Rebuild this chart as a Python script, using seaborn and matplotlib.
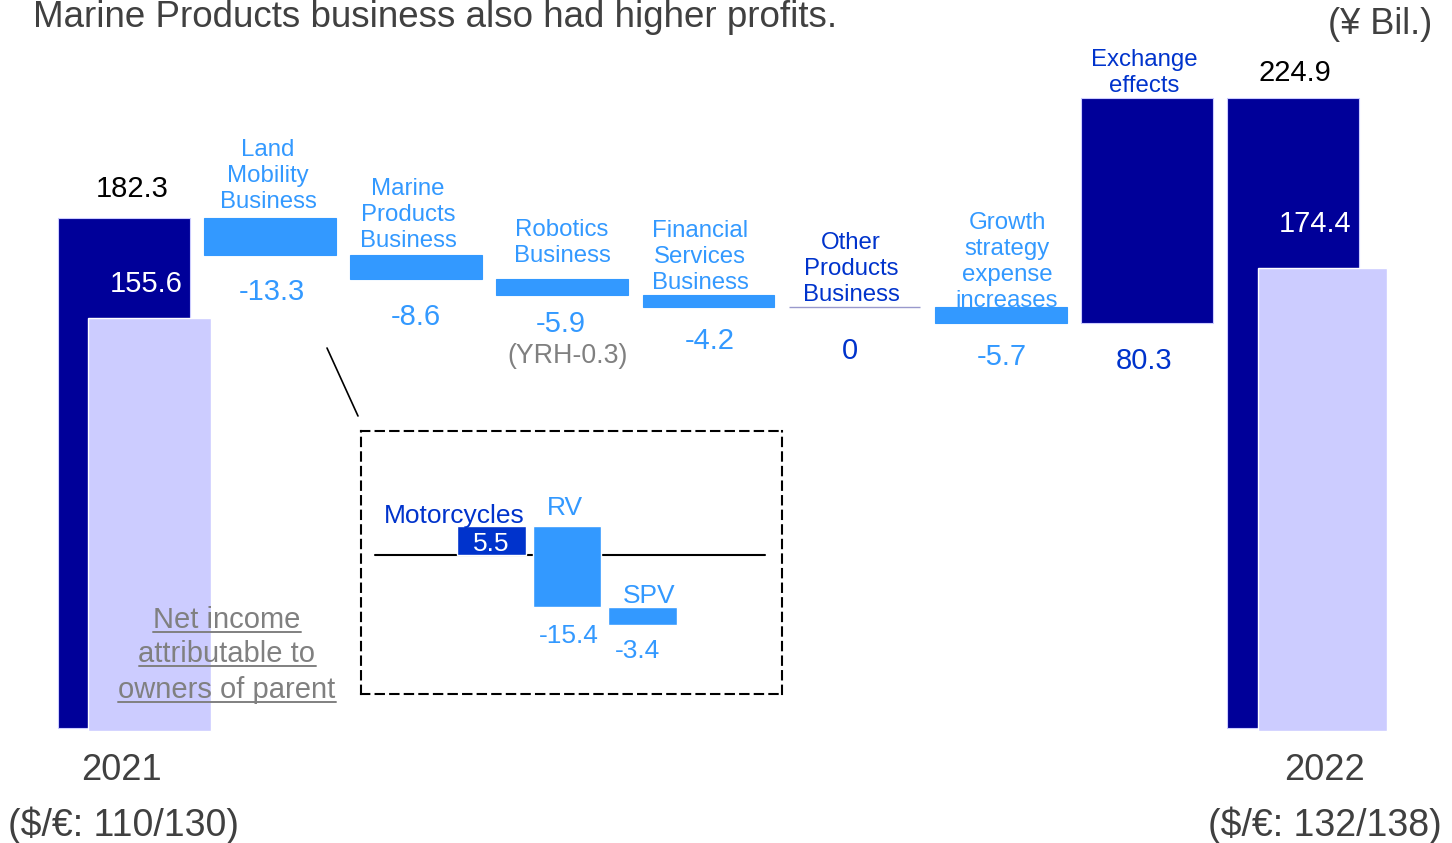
import numpy as np
import matplotlib.pyplot as plt
import seaborn as sns
from matplotlib.lines import Line2D

sns.set_theme(style="white")
plt.rcParams['font.family'] = ['Liberation Sans', 'DejaVu Sans']

W, H = 1452, 843

# ---- data ----
years = ["2021", "2022"]
fx_rates = ["($/€: 110/130)", "($/€: 132/138)"]
op_income = [182.3, 224.9]
net_income = [155.6, 174.4]
steps = ["Land\nMobility\nBusiness", "Marine\nProducts\nBusiness", "Robotics\nBusiness",
         "Financial\nServices\nBusiness", "Other\nProducts\nBusiness",
         "Growth\nstrategy\nexpense\nincreases", "Exchange\neffects"]
step_values = [-13.3, -8.6, -5.9, -4.2, 0.0, -5.7, 80.3]
land_parts = ["Motorcycles", "RV", "SPV"]
land_values = [5.5, -15.4, -3.4]

# colours
NAVY = "#000099"
LIGHT = "#CCCCFF"
BLUE = "#3399FF"
DARKBLUE = "#0033CC"
GREY = "#404040"
MIDGREY = "#808080"


def px(x, y):
    # pixel position (from top-left) -> figure fraction
    return x / W, 1 - y / H


fig = plt.figure(figsize=(W / 100, H / 100), dpi=100)
ax = fig.add_axes([0, 0, 1, 1])
ax.set_xlim(-124 / 146.125, (W - 124) / 146.125)
ax.set_ylim(-115 / 2.8, 728 / 2.8)
ax.axis('off')

# net income bars on their own scale
ax2 = fig.add_axes([0, 0, 1, 1])
ax2.set_xlim(ax.get_xlim())
ax2.set_ylim(-(H - 731) / 2.655, 731 / 2.655)
ax2.axis('off')
ax2.patch.set_alpha(0)

n = len(steps)
xs_total = [0, n + 1]
levels = op_income[0] + np.concatenate([[0], np.cumsum(step_values)])

ax.bar(xs_total, op_income, width=0.903, color=NAVY, edgecolor=LIGHT, linewidth=0.8, zorder=2)
ax2.bar(np.array(xs_total) + np.array([0.175, 0.2]), net_income, width=[0.84, 0.88],
        color=LIGHT, edgecolor="white", linewidth=1, zorder=3)

for i, v in enumerate(step_values):
    x = i + 1
    if v == 0:
        ax.hlines(levels[i], x - 0.45, x + 0.45, color="#9999CC", lw=1, zorder=2)
        continue
    col = NAVY if v > 0 else BLUE
    ax.bar(x, abs(v), bottom=min(levels[i], levels[i + 1]), width=0.903,
           color=col, edgecolor=LIGHT if v > 0 else BLUE, linewidth=0.8, zorder=2)

# ---- texts ----
fig.text(*px(33, 27), "Marine Products business also had higher profits.", fontsize=26.5,
         color=GREY, ha='left', va='baseline')
fig.text(*px(1432, 24), "(¥ Bil.)", fontsize=26, color=GREY, ha='right', va='center')

fig.text(*px(132, 189), f"{op_income[0]:.1f}", fontsize=21, color="black", ha='center', va='center')
fig.text(*px(1295, 73), f"{op_income[1]:.1f}", fontsize=21, color="black", ha='center', va='center')
fig.text(*px(146, 284), f"{net_income[0]:.1f}", fontsize=21, color="white", ha='center', va='center', zorder=5)
fig.text(*px(1315, 224), f"{net_income[1]:.1f}", fontsize=21, color="white", ha='center', va='center', zorder=5)

name_pos = [(268, 176), (408, 215), (562, 243), (700, 257), (851, 269), (1007, 262), (1144, 73)]
value_pos = [(272, 292), (416, 317), (561, 324), (710, 341), (850, 351), (1002, 357), (1144, 361)]
for i, (name, v) in enumerate(zip(steps, step_values)):
    dark = (v == 0) or (v > 0)
    c = DARKBLUE if dark else BLUE
    ax.text(*ax.transData.inverted().transform((name_pos[i][0], H - name_pos[i][1])), name,
            fontsize=17.3, color=c, ha='center', va='center', linespacing=1.22, zorder=1)
    lab = "0" if v == 0 else f"{v:.1f}"
    fig.text(*px(*value_pos[i]), lab, fontsize=21, color=c, ha='center', va='center')

fig.text(*px(568, 356), "(YRH-0.3)", fontsize=19.3, color=MIDGREY, ha='center', va='center')

for x, yr in zip([121, 1324], years):
    fig.text(*px(x, 771), yr, fontsize=26, color=GREY, ha='center', va='center')
for x, fxr in zip([124, 1325], fx_rates):
    fig.text(*px(x, 825), fxr, fontsize=27, color=GREY, ha='center', va='center')

# underlined net income note
note_lines = ["Net income", "attributable to", "owners of parent"]
note_base = [628, 662, 698]
note_texts = []
for line, yb in zip(note_lines, note_base):
    note_texts.append(fig.text(*px(227, yb), line, fontsize=21, color=MIDGREY,
                               ha='center', va='baseline', zorder=6))

# connector to inset
fig.add_artist(Line2D([327 / W, 358 / W], [1 - 348 / H, 1 - 416 / H], color="black", lw=1.2))

# ---- inset: Land Mobility breakdown ----
axi = fig.add_axes([361 / W, (H - 694) / H, 421 / W, 263 / H])
axi.set_xlim(-130.5 / 75.5, (421 - 130.5) / 75.5)
axi.set_ylim(-139 / 5.3, 124 / 5.3)
axi.patch.set_alpha(0)
axi.set_xticks([])
axi.set_yticks([])
for s in axi.spines.values():
    s.set_visible(True)
    s.set_linestyle((0, (4, 3)))
    s.set_color("black")
    s.set_linewidth(1.5)

inner = np.concatenate([[0], np.cumsum(land_values)])
axi.axhline(0, xmin=14 / 421, xmax=404 / 421, color="black", lw=1.5, zorder=1)
for i, v in enumerate(land_values):
    axi.bar(i, abs(v), bottom=min(inner[i], inner[i + 1]), width=0.91,
            color=DARKBLUE if v > 0 else BLUE, zorder=2)

fig.text(*px(454, 516), land_parts[0], fontsize=19, color=DARKBLUE, ha='center', va='center', zorder=5)
fig.text(*px(491, 544), f"{land_values[0]:.1f}", fontsize=19, color="white", ha='center', va='center', zorder=5)
fig.text(*px(565, 508), land_parts[1], fontsize=19, color=BLUE, ha='center', va='center')
fig.text(*px(649, 596), land_parts[2], fontsize=19, color=BLUE, ha='center', va='center')
fig.text(*px(569, 636), f"{land_values[1]:.1f}", fontsize=19, color=BLUE, ha='center', va='center')
fig.text(*px(638, 651), f"{land_values[2]:.1f}", fontsize=19, color=BLUE, ha='center', va='center')

# underline the note
fig.canvas.draw()
r = fig.canvas.get_renderer()
for t, yb in zip(note_texts, note_base):
    bb = t.get_window_extent(r)
    yy = 1 - (yb + 4) / H
    fig.add_artist(Line2D([bb.x0 / W, bb.x1 / W], [yy, yy], color=MIDGREY, lw=1.4, zorder=6))

fig.savefig("out.png", dpi=100)
